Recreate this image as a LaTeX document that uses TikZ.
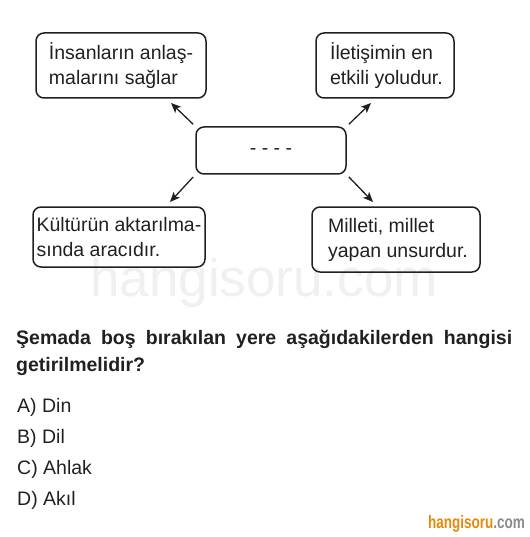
\documentclass[tikz,border=0pt]{standalone}
\usepackage{fontspec}
\setmainfont{Liberation Sans}
\usetikzlibrary{positioning}
\usetikzlibrary{arrows.meta}
\definecolor{koyu}{RGB}{35,31,32}
\definecolor{turuncu}{RGB}{226,138,12}
\definecolor{gri}{RGB}{140,140,140}
\tikzset{
    kutu/.style={draw=koyu, text=koyu, line width=1.5pt, rounded corners=8pt, align=left, inner sep=0pt, font=\fontsize{19.5}{25}\selectfont},
    ok/.style={koyu, line width=1.3pt, shorten <=3pt, -{Stealth[length=10pt,width=8.5pt,inset=2.5pt]}},
    secenek/.style={anchor=base west, inner sep=0pt, text=koyu, font=\fontsize{19.5}{25}\selectfont}
}

\begin{document}
\begin{tikzpicture}[x=1pt, y=-1pt]
    \useasboundingbox (0,0) rectangle (529,537);

    % Watermark
    \node[anchor=base west, inner sep=0pt, text=black!6, font=\fontsize{53}{53}\selectfont] (filigran) at (90,296) {hangisoru.com};

    % Draw boxes
    \node[kutu, minimum width=150pt, minimum height=47pt] (bos) at (271,150.5) {\raisebox{-4.5pt}[0pt][0pt]{- - - -}};
    \node[kutu, minimum width=170pt, minimum height=65pt] (solust) at (121,65.5) {İnsanların anlaş-\\malarını sağlar};
    \node[kutu, minimum width=138pt, minimum height=65pt] (sagust) at (385,65.5) {\hspace*{3pt}İletişimin en\\\hspace*{3pt}etkili yoludur.};
    \node[kutu, minimum width=172pt, minimum height=60pt] (solalt) at (119,237) {Kültürün aktarılma-\\sında aracıdır.};
    \node[kutu, minimum width=168pt, minimum height=65pt] (sagalt) at (396,239.5) {\hspace*{4pt}Milleti, millet\\\hspace*{4pt}yapan unsurdur.};

    % Draw arrows
    \coordinate (ucsolust) at (171,103);
    \coordinate (ucsagust) at (371,103);
    \coordinate (ucsolalt) at (170,202);
    \coordinate (ucsagalt) at (373,202);
    \draw[ok] (bos.north west) -- (ucsolust);
    \draw[ok] (bos.north east) -- (ucsagust);
    \draw[ok] (bos.south west) -- (ucsolalt);
    \draw[ok] (bos.south east) -- (ucsagalt);

    % Question
    \node[anchor=north west, inner sep=0pt, text width=496pt, align=justify, text=koyu, font=\bfseries\fontsize{19.5}{27}\selectfont] (soru) at (16,330) {Şemada boş bırakılan yere aşağıdakilerden hangisi\linebreak getirilmelidir?};

    % Choices
    \foreach \harf/\cevap [count=\i from 0] in {A/Din, B/Dil, C/Ahlak, D/Akıl} {
        \node[secenek] (secenek\harf) at (17,{412+31*\i}) {\harf) \cevap};
    }

    % Site mark
    \node[anchor=base west, inner sep=0pt, font=\bfseries\fontsize{18}{18}\selectfont] (site) at (428,528) {\scalebox{0.75}[1]{\textcolor{turuncu}{hangisoru}\textcolor{gri}{.com}}};
\end{tikzpicture}
\end{document}
